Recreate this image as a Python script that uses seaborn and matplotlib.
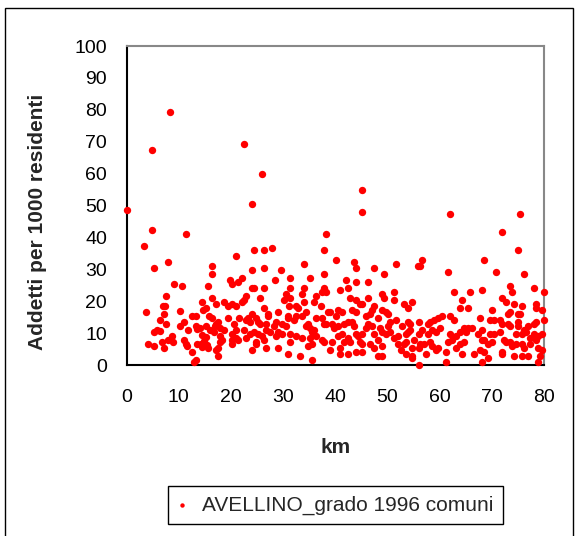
import matplotlib
matplotlib.use("Agg")
import matplotlib.pyplot as plt
from matplotlib.patches import Rectangle
import seaborn as sns
import pandas as pd

# distanza (km) e addetti per 1000 residenti
km = [
    0.0, 8.4, 4.9, 22.5, 26.0, 24.1, 45.1, 45.1, 62.0, 75.4,
    4.9, 11.4, 3.3, 8.0, 5.3, 9.1, 10.7, 15.6, 7.6, 7.0, 7.3, 14.5, 3.8, 10.3,
    7.2, 15.3, 14.7, 6.4, 7.6, 12.5, 13.3, 11.0, 10.2, 13.3, 14.0, 15.3, 11.8,
    13.5, 5.9, 5.2, 6.4, 8.7, 14.5, 15.3, 8.0, 8.8, 6.8, 11.0, 11.3, 11.5, 4.1,
    5.3, 7.2, 13.4, 14.2, 14.8, 15.4, 14.4, 15.6, 12.6, 13.3, 12.9,
    24.5, 26.4, 27.9, 21.0, 16.4, 16.4, 24.1, 26.4, 29.5, 19.9, 20.2, 21.4,
    22.2, 28.4, 31.3, 24.1, 24.5, 26.4, 30.6, 31.4, 16.4, 22.9, 22.5, 22.2,
    25.6, 30.2, 31.4, 17.1, 18.7, 20.2, 19.5, 21.0, 31.1, 26.4, 15.8, 16.4,
    16.9, 17.5, 17.1, 19.5, 20.6, 21.6, 22.9, 23.3, 24.1, 23.7, 24.8, 25.2,
    25.6, 27.1, 27.1, 29.0, 31.0, 31.0, 28.7, 28.3, 29.8, 30.6, 26.8, 22.5,
    21.0, 18.7, 17.9, 16.0, 16.8, 17.9, 20.2, 21.0, 20.2, 21.4, 20.2, 22.9,
    23.7, 24.5, 25.2, 26.0, 26.8, 27.5, 29.0, 29.8, 31.3, 28.7, 24.8, 24.8,
    26.4, 26.8, 29.0, 31.3, 24.1, 31.0, 17.5, 17.9, 18.3, 17.5, 17.1,
    38.2, 37.9, 34.0, 40.2, 43.6, 44.0, 47.4, 37.9, 35.2, 42.1, 44.0, 46.3,
    34.0, 37.9, 37.5, 38.2, 40.9, 42.5, 36.3, 33.7, 42.9, 44.0, 44.8, 45.2,
    46.3, 36.0, 37.2, 32.5, 32.9, 34.0, 34.4, 33.7, 32.5, 38.6, 39.0, 40.5,
    41.3, 43.2, 44.0, 47.0, 47.4, 45.8, 46.6, 36.3, 37.5, 32.1, 37.9, 38.2,
    39.4, 40.2, 40.5, 39.8, 41.7, 42.5, 43.2, 43.6, 46.3, 45.8, 47.0, 34.8,
    35.2, 34.4, 36.0, 35.6, 32.5, 33.7, 35.2, 36.3, 37.5, 37.9, 39.4, 40.5,
    41.3, 41.7, 42.5, 42.9, 44.0, 44.4, 45.2, 44.8, 45.2, 46.6, 47.4, 47.4,
    35.6, 34.8, 39.0, 40.9, 42.5, 40.9, 44.0, 45.2, 33.3, 35.6,
    56.6, 55.9, 56.3, 51.6, 49.4, 61.6, 62.8, 64.0, 49.0, 49.4, 51.3, 51.3,
    53.2, 54.0, 54.7, 49.0, 49.7, 50.1, 48.2, 51.6, 50.5, 50.1, 48.6, 49.0,
    49.7, 50.5, 52.8, 54.0, 54.4, 54.0, 53.6, 54.4, 56.0, 56.6, 56.0, 51.3,
    52.1, 52.1, 53.6, 53.2, 55.1, 56.3, 57.0, 54.7, 56.0, 52.5, 53.6, 54.7,
    54.7, 57.4, 57.8, 58.2, 58.9, 59.7, 60.5, 57.8, 58.6, 59.3, 60.1, 58.2,
    58.6, 59.3, 59.7, 61.2, 61.2, 56.0, 62.0, 62.8, 62.0, 62.4, 63.1, 63.1,
    61.6, 64.0, 64.0, 49.0, 49.0, 48.2, 48.2,
    72.0, 75.0, 68.5, 70.8, 76.2, 73.5, 73.9, 78.1, 80.0, 68.1, 65.8, 64.3,
    65.4, 72.0, 72.7, 74.3, 75.8, 78.5, 78.5, 79.6, 70.0, 73.5, 73.1, 75.0,
    75.4, 67.7, 69.6, 70.4, 71.5, 71.9, 75.0, 75.0, 73.1, 73.5, 78.5, 78.1,
    76.9, 80.0, 64.7, 65.4, 66.2, 65.0, 67.3, 68.1, 69.6, 70.4, 71.5, 76.2,
    76.6, 75.8, 74.7, 78.1, 78.9, 79.6, 77.3, 64.7, 68.1, 68.5, 69.3, 70.0,
    72.3, 72.7, 73.5, 73.9, 74.7, 75.8, 76.2, 77.3, 78.5, 78.9, 67.7, 68.5,
    66.6, 72.0, 72.0, 74.3, 75.8, 76.9, 79.2, 64.3, 68.1, 69.3, 78.9, 79.6,
]
addetti = [
    48.6, 79.4, 67.4, 69.4, 59.9, 50.5, 54.9, 48.0, 47.3, 47.3,
    42.3, 41.1, 37.3, 32.3, 30.4, 25.4, 24.8, 24.8, 21.6, 18.5, 18.5, 19.7, 16.6, 16.9,
    16.0, 17.9, 17.3, 14.1, 12.9, 15.4, 15.4, 13.5, 12.2, 12.2, 11.6, 12.2, 11.0,
    11.3, 11.0, 10.3, 10.7, 9.1, 9.4, 8.9, 7.8, 7.2, 7.2, 7.8, 6.6, 6.0, 6.6,
    6.0, 5.3, 6.6, 6.6, 7.5, 6.3, 5.6, 5.3, 4.1, 1.6, 0.9,
    36.0, 36.0, 36.7, 34.2, 31.0, 28.5, 29.8, 30.4, 29.8, 26.6, 25.4, 26.0,
    27.3, 26.6, 27.3, 24.1, 24.1, 24.1, 22.3, 24.1, 21.0, 21.6, 20.4, 19.7,
    21.0, 20.4, 21.0, 19.1, 19.7, 19.1, 18.5, 18.5, 18.5, 17.9, 15.4, 14.8,
    12.2, 13.5, 12.9, 14.8, 12.9, 14.8, 14.1, 14.8, 16.0, 13.5, 14.8, 13.5,
    12.9, 16.0, 15.4, 16.6, 15.4, 14.8, 13.5, 12.2, 12.9, 12.2, 12.9, 11.0,
    11.0, 11.0, 11.6, 11.0, 10.3, 9.1, 9.7, 8.5, 7.8, 7.8, 6.6, 8.5,
    9.7, 10.3, 9.7, 9.1, 11.0, 10.3, 10.3, 9.7, 9.7, 9.1, 7.2, 6.6,
    7.8, 5.3, 5.3, 7.2, 4.7, 3.4, 5.3, 7.2, 7.8, 2.8, 4.7,
    41.1, 36.0, 31.7, 32.9, 32.3, 30.4, 30.4, 28.5, 27.3, 26.6, 26.0, 26.0,
    24.1, 24.1, 22.9, 22.9, 23.5, 24.1, 21.6, 22.3, 21.0, 20.4, 19.1, 19.1,
    21.0, 19.7, 18.5, 18.5, 17.9, 19.7, 16.6, 15.4, 15.4, 16.6, 16.6, 17.3,
    16.6, 17.3, 16.6, 17.3, 18.5, 15.4, 16.0, 14.8, 14.7, 14.1, 12.9, 12.9,
    12.9, 15.4, 12.2, 11.6, 12.9, 13.5, 13.5, 12.2, 12.9, 11.6, 12.2, 12.9,
    11.6, 12.2, 11.0, 10.3, 9.1, 8.5, 8.5, 9.1, 7.8, 7.2, 7.2, 9.1,
    9.7, 7.2, 8.5, 7.2, 9.7, 9.1, 9.7, 7.2, 6.6, 6.6, 9.7, 5.3,
    6.6, 6.0, 4.7, 5.3, 3.4, 3.4, 4.1, 4.1, 2.8, 1.6,
    32.9, 31.0, 31.0, 31.7, 28.5, 29.2, 22.9, 17.9, 22.3, 21.0, 22.9, 20.4,
    19.1, 17.9, 19.7, 17.3, 16.6, 16.0, 14.8, 14.1, 13.5, 12.2, 11.6, 10.3,
    9.7, 10.3, 12.2, 13.5, 12.9, 10.3, 9.7, 11.0, 13.5, 11.0, 9.7, 8.5,
    9.1, 6.6, 7.2, 6.6, 7.8, 6.6, 6.6, 5.3, 5.3, 4.7, 3.4, 2.8,
    2.2, 3.4, 12.9, 13.5, 14.1, 14.8, 15.4, 9.7, 11.0, 10.3, 11.6, 7.2,
    6.0, 4.7, 5.3, 4.1, 1.0, 0.0, 15.4, 14.1, 9.7, 7.8, 9.1, 5.3,
    7.2, 10.3, 6.6, 2.8, 6.0, 7.8, 2.8,
    41.7, 36.0, 32.9, 29.2, 28.5, 24.8, 22.9, 24.1, 22.9, 23.5, 22.9, 20.4,
    17.9, 21.0, 19.7, 19.1, 18.5, 19.1, 17.9, 17.3, 17.3, 16.6, 16.0, 16.0,
    16.0, 14.8, 14.1, 14.1, 14.1, 12.9, 13.5, 12.2, 12.9, 12.2, 13.5, 12.9,
    12.2, 14.1, 11.6, 11.6, 11.6, 10.3, 9.7, 11.0, 9.7, 9.7, 10.3, 11.0,
    10.3, 9.7, 9.7, 9.7, 9.1, 9.7, 8.5, 7.2, 7.8, 7.8, 6.6, 7.2,
    7.8, 7.2, 7.2, 6.0, 6.6, 6.6, 5.3, 6.6, 7.8, 5.3, 4.7, 4.1,
    3.4, 4.1, 3.4, 2.8, 2.8, 2.8, 2.8, 3.4, 1.0, 2.2, 1.0, 4.7,
]
x_ticks = [0, 10, 20, 30, 40, 50, 60, 70, 80]
y_ticks = [0, 10, 20, 30, 40, 50, 60, 70, 80, 90, 100]
serie = "AVELLINO_grado 1996 comuni"

df = pd.DataFrame({"km": km, "addetti": addetti})

sns.set_style("white")
plt.rcParams["font.family"] = ["Liberation Sans", "DejaVu Sans"]

fig = plt.figure(figsize=(5.75, 5.36), dpi=100)
ax = fig.add_axes([0.2203, 0.319, 0.7257, 0.595])

sns.scatterplot(data=df, x="km", y="addetti", ax=ax, color="#ff0000",
                s=28, linewidth=0, label=serie, clip_on=False, zorder=3)

ax.set_xlim(0, 80)
ax.set_ylim(0, 100)
ax.set_xticks(x_ticks)
ax.set_yticks(y_ticks)
ax.tick_params(axis="both", direction="out", length=5, width=1,
               colors="black", labelsize=14)
ax.tick_params(axis="y", pad=9)
ax.tick_params(axis="x", pad=12)

for side in ["left", "bottom"]:
    ax.spines[side].set_color("black")
    ax.spines[side].set_linewidth(1.5)
for side in ["top", "right"]:
    ax.spines[side].set_color("#888888")
    ax.spines[side].set_linewidth(1.5)

ax.set_xlabel("km", fontsize=15, fontweight="bold")
ax.set_ylabel("Addetti per 1000 residenti", fontsize=15, fontweight="bold")
ax.xaxis.set_label_coords(0.5, -0.229)
ax.yaxis.set_label_coords(-0.191, 0.45)

ax.get_legend().remove()
leg = fig.legend(loc="center", bbox_to_anchor=(0.583, 0.057), fontsize=15,
                 frameon=True, fancybox=False, framealpha=1, edgecolor="black",
                 handlelength=0.5, handletextpad=0.7, borderpad=0.45,
                 markerscale=0.6)
leg.get_frame().set_linewidth(1)

# cornice esterna del grafico
fig.add_artist(Rectangle((5 / 575, -0.01), 568 / 575, 1 - 8 / 536 + 0.01,
                         transform=fig.transFigure, fill=False,
                         edgecolor="black", linewidth=1))

fig.savefig("out.png", dpi=100)
